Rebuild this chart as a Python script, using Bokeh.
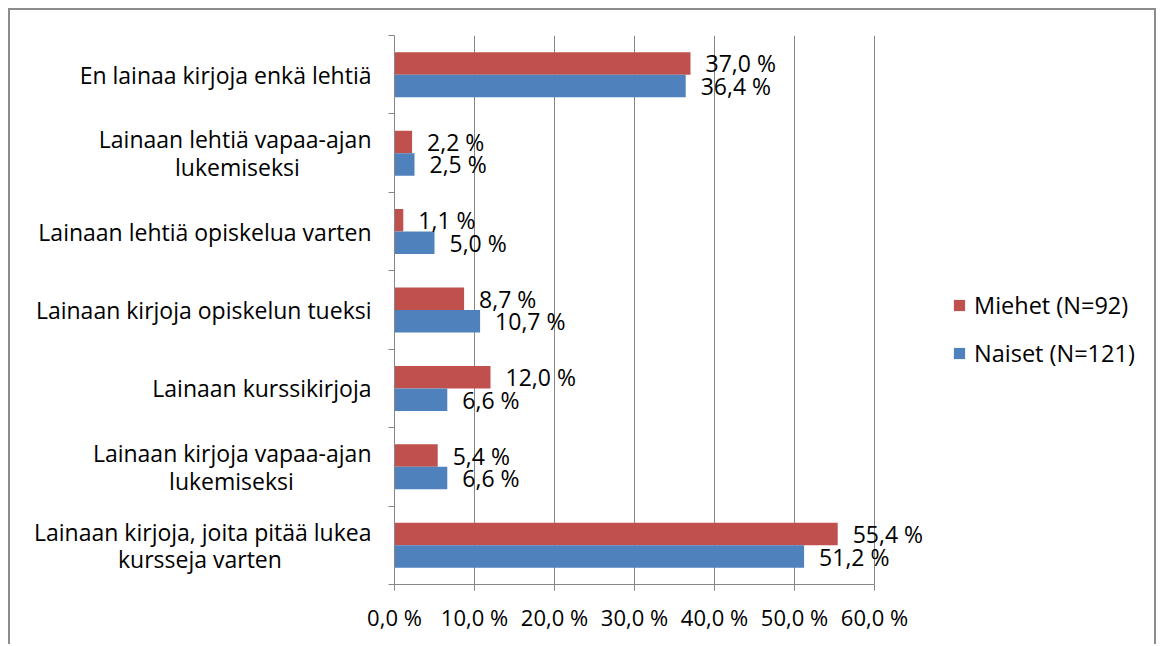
from bokeh.plotting import figure
from bokeh.models import ColumnDataSource, FixedTicker, Legend, LegendItem, LabelSet, Range1d
from bokeh.core.properties import value
from bokeh.embed import file_html
from bokeh.resources import INLINE

categories = [
    "En lainaa kirjoja enkä lehtiä",
    "Lainaan lehtiä vapaa-ajan\nlukemiseksi",
    "Lainaan lehtiä opiskelua varten",
    "Lainaan kirjoja opiskelun tueksi",
    "Lainaan kurssikirjoja",
    "Lainaan kirjoja vapaa-ajan\nlukemiseksi",
    "Lainaan kirjoja, joita pitää lukea\nkursseja varten",
]
miehet = [37.0, 2.2, 1.1, 8.7, 12.0, 5.4, 55.4]
naiset = [36.4, 2.5, 5.0, 10.7, 6.6, 6.6, 51.2]
series_names = ["Miehet (N=92)", "Naiset (N=121)"]
x_ticks = [0, 10, 20, 30, 40, 50, 60]
x_tick_labels = ["0,0 %", "10,0 %", "20,0 %", "30,0 %", "40,0 %", "50,0 %", "60,0 %"]

RED = "#C0504D"
BLUE = "#4F81BD"
GRID = "#868686"
FONT = "Open Sans"
TXT = "#000000"

# layout (pixels): frame spans 0..60 over 480 px, extended to the right for the legend
PX_PER_UNIT = 8.0
FRAME_W = 760

n = len(categories)
centers = [n - 0.5 - i for i in range(n)]
boundaries = list(range(n + 1))
bar_h = 0.287


def fmt(v):
    return f"{v:.1f}".replace(".", ",") + " %"


src_m = ColumnDataSource(dict(y=[c + bar_h / 2 for c in centers], right=miehet,
                              label=[fmt(v) for v in miehet]))
src_n = ColumnDataSource(dict(y=[c - bar_h / 2 for c in centers], right=naiset,
                              label=[fmt(v) for v in naiset]))

p = figure(width=1148, height=636, x_range=Range1d(0, FRAME_W / PX_PER_UNIT), y_range=Range1d(0, n),
           output_backend="svg", toolbar_location=None,
           min_border_left=384, min_border_right=4, min_border_top=25, min_border_bottom=62)
p.styles = {"margin-left": "8px", "margin-top": "8px",
            "border-top": "2px solid #8c8c8c", "border-left": "2px solid #8c8c8c",
            "border-right": "2px solid #8c8c8c"}
p.outline_line_color = None
p.background_fill_color = "white"
p.border_fill_color = "white"

r_m = p.hbar(y="y", right="right", left=0, height=bar_h, source=src_m,
             fill_color=RED, line_color=None)
r_n = p.hbar(y="y", right="right", left=0, height=bar_h, source=src_n,
             fill_color=BLUE, line_color=None)

for src in (src_m, src_n):
    p.add_layout(LabelSet(x="right", y="y", text="label", source=src, x_offset=15,
                          text_baseline="middle", text_align="left",
                          text_font=value(FONT), text_font_size=value("23px"), text_color=TXT))

# x axis
p.xaxis.ticker = FixedTicker(ticks=x_ticks)
p.xaxis.bounds = (x_ticks[0], x_ticks[-1])
p.xaxis.major_label_overrides = {t: l for t, l in zip(x_ticks, x_tick_labels)}
p.xaxis.minor_tick_line_color = None
p.xaxis.major_tick_in = 0
p.xaxis.major_tick_out = 6
p.xaxis.axis_line_color = GRID
p.xaxis.major_tick_line_color = GRID
p.xaxis.major_label_text_font = FONT
p.xaxis.major_label_text_font_size = "22px"
p.xaxis.major_label_text_color = TXT
p.xaxis.major_label_standoff = 11

# y axis: labels at category centres, tick marks at category boundaries
pad = {1: 12, 5: 13, 6: 15}
shown = []
for i, c in enumerate(categories):
    if i in pad:
        a, b = c.split("\n")
        c = a + "\n" + b + "\u00a0" * pad[i]
    shown.append(c)
p.yaxis.ticker = FixedTicker(ticks=centers, minor_ticks=boundaries)
p.yaxis.major_label_overrides = {c: lab for c, lab in zip(centers, shown)}
p.yaxis.major_tick_in = 0
p.yaxis.major_tick_out = 0
p.yaxis.minor_tick_in = 0
p.yaxis.minor_tick_out = 6
p.yaxis.minor_tick_line_color = GRID
p.yaxis.axis_line_color = GRID
p.yaxis.major_label_text_font = FONT
p.yaxis.major_label_text_font_size = "23px"
p.yaxis.major_label_text_line_height = 0.86
p.yaxis.major_label_text_color = TXT
p.yaxis.major_label_standoff = 17

p.xgrid.ticker = FixedTicker(ticks=x_ticks[1:])
p.xgrid.grid_line_color = GRID
p.ygrid.visible = False

legend = Legend(items=[LegendItem(label=series_names[0], renderers=[r_m]),
                       LegendItem(label=series_names[1], renderers=[r_n])],
                location=(558, 215), orientation="vertical",
                glyph_width=14, glyph_height=14, label_height=24, spacing=16,
                label_standoff=8, padding=0, margin=0,
                border_line_color=None, background_fill_alpha=0,
                label_text_font=FONT, label_text_font_size="23.5px", label_text_color=TXT)
p.add_layout(legend, "center")

open("out.html", "w").write(file_html(p, INLINE))
